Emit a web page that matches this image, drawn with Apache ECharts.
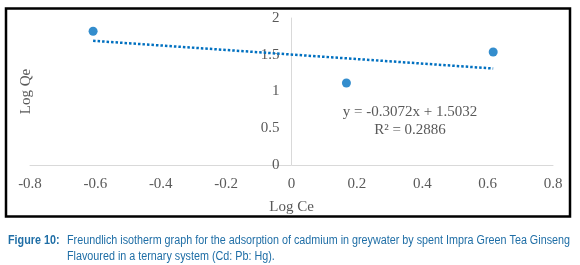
<!DOCTYPE html>
<html>
<head>
<meta charset="utf-8">
<script src="https://cdn.jsdelivr.net/npm/echarts@6/dist/echarts.min.js"></script>
<style>
html,body{margin:0;padding:0;background:#fff;}
#chart{width:580px;height:265px;}
</style>
</head>
<body>
<div id="chart"></div>
<script>
// 数据点 (Log Ce, Log Qe)
var logCe = [-0.607, 0.168, 0.617];
var logQe = [1.82, 1.115, 1.537];
// 趋势线两端
var trendX = [-0.607, 0.617];
var trendY = [1.690, 1.313];
var xTicks = [-0.8, -0.6, -0.4, -0.2, 0, 0.2, 0.4, 0.6, 0.8];
var yTicks = [0, 0.5, 1, 1.5, 2];
var eqText = ['y = -0.3072x + 1.5032', 'R² = 0.2886'];
var caption1 = 'Freundlich isotherm graph for the adsorption of cadmium in greywater by spent Impra Green Tea Ginseng';
var caption2 = 'Flavoured in a ternary system (Cd: Pb: Hg).';

var serif = '"Liberation Serif","Times New Roman",serif';
var narrow = '"Liberation Sans Narrow","Arial Narrow","Liberation Sans",sans-serif';
var grey = '#595959';
var capColor = '#1f6ea6';

// 测量文字宽度, 用来把标题拉伸到两端对齐
var cv = document.createElement('canvas').getContext('2d');
function textW(t, font){ cv.font = font; return cv.measureText(t).width; }
var capFont = '12px ' + narrow;
var capScale = (570 - 67) / textW(caption1, capFont);

var gridL = 30, gridR = 27;
var plotW = 580 - gridL - gridR;
// y轴放在 x=0 处
var yOffset = -plotW * (0 - xTicks[0]) / (xTicks[xTicks.length - 1] - xTicks[0]);

var myChart = echarts.init(document.getElementById('chart'));

var option = {
    animation: false,
    grid: {left: gridL, right: gridR, top: 18, bottom: 100, containLabel: false, outerBoundsMode: 'none'},
    xAxis: {
        type: 'value',
        min: xTicks[0],
        max: xTicks[xTicks.length - 1],
        interval: 0.2,
        name: 'Log Ce',
        nameLocation: 'middle',
        nameGap: 35,
        nameTextStyle: {fontFamily: serif, fontSize: 15, color: grey},
        axisLine: {lineStyle: {color: '#d9d9d9', width: 1}},
        axisTick: {show: false},
        splitLine: {show: false},
        axisLabel: {
            fontFamily: serif, fontSize: 15, color: grey, margin: 12,
            formatter: function(v){ return String(Math.round(v * 10) / 10); }
        }
    },
    yAxis: {
        type: 'value',
        position: 'left',
        offset: yOffset,
        min: yTicks[0],
        max: yTicks[yTicks.length - 1],
        interval: 0.5,
        name: 'Log Qe',
        nameLocation: 'middle',
        nameGap: 258,
        nameTextStyle: {fontFamily: serif, fontSize: 15, color: grey},
        axisLine: {show: true, onZero: false, lineStyle: {color: '#d9d9d9', width: 1}},
        axisTick: {show: false},
        splitLine: {show: false},
        axisLabel: {fontFamily: serif, fontSize: 15, color: grey, margin: 12}
    },
    series: [
        {
            name: 'trend',
            type: 'line',
            data: trendX.map(function(x, i){ return [x, trendY[i]]; }),
            showSymbol: false,
            symbol: 'none',
            lineStyle: {color: '#0070c0', width: 2.5, type: [2.5, 2]},
            z: 2
        },
        {
            name: 'Log Qe',
            type: 'scatter',
            data: logCe.map(function(x, i){ return [x, logQe[i]]; }),
            symbol: 'circle',
            symbolSize: 9,
            itemStyle: {color: '#0070c0'},
            z: 3
        }
    ],
    graphic: [
        {
            type: 'rect',
            shape: {x: 6, y: 8.5, width: 564, height: 208},
            style: {fill: 'none', stroke: '#000', lineWidth: 2.5},
            silent: true
        },
        {
            type: 'text', x: 410, y: 112,
            style: {text: eqText[0], font: '15px ' + serif, fill: grey, textAlign: 'center', textVerticalAlign: 'middle'}
        },
        {
            type: 'text', x: 410, y: 130,
            style: {text: eqText[1], font: '15px ' + serif, fill: grey, textAlign: 'center', textVerticalAlign: 'middle'}
        },
        {
            type: 'text', x: 8, y: 241, scaleX: capScale,
            style: {text: 'Figure 10:', font: 'bold ' + capFont, fill: capColor, textVerticalAlign: 'middle'}
        },
        {
            type: 'text', x: 67, y: 241, scaleX: capScale,
            style: {text: caption1, font: capFont, fill: capColor, textVerticalAlign: 'middle'}
        },
        {
            type: 'text', x: 67, y: 257, scaleX: capScale,
            style: {text: caption2, font: capFont, fill: capColor, textVerticalAlign: 'middle'}
        }
    ]
};

myChart.setOption(option);
</script>
</body>
</html>
